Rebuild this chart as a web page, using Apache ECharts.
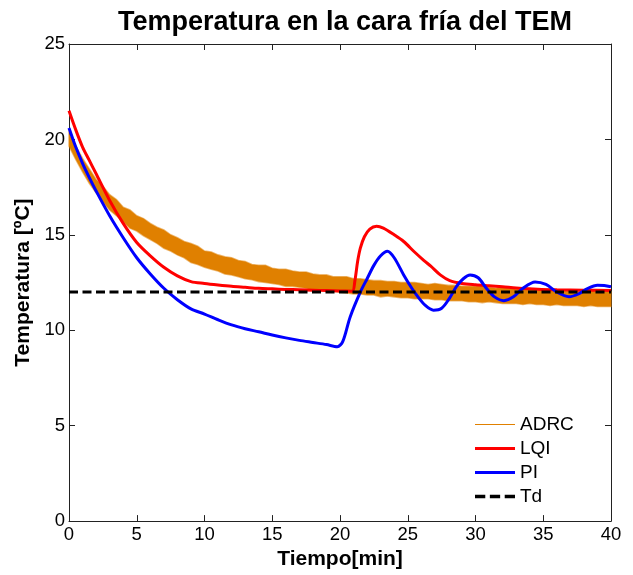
<!DOCTYPE html>
<html>
<head>
<meta charset="utf-8">
<script src="https://cdn.jsdelivr.net/npm/echarts@6/dist/echarts.min.js"></script>
<style>
    html, body { margin: 0; padding: 0; background: #fff; }
    #main { width: 633px; height: 575px; }
</style>
</head>
<body>
<div id="main"></div>
<script>
// tiempo [min] y temperatura [ºC]
var adrcTime = [0, 0.5, 1, 1.5, 2, 2.5, 3, 3.5, 4, 4.5, 5, 5.5, 6, 6.5, 7, 7.5, 8, 8.5, 9, 9.5,
    10, 10.5, 11, 11.5, 12, 12.5, 13, 13.5, 14, 14.5, 15, 15.5, 16, 16.5, 17, 17.5, 18, 18.5, 19, 19.5,
    20, 20.5, 21, 21.5, 22, 22.5, 23, 23.5, 24, 24.5, 25, 25.5, 26, 26.5, 27, 27.5, 28, 28.5, 29, 29.5,
    30, 30.5, 31, 31.5, 32, 32.5, 33, 33.5, 34, 34.5, 35, 35.5, 36, 36.5, 37, 37.5, 38, 38.5, 39, 39.5, 40];
// borde inferior y superior de la banda de ruido
var adrcLow = [19.65, 18.95, 18.3, 17.7, 17.2, 16.75, 16.3, 16.0, 15.7, 15.35,
    15.2, 14.95, 14.75, 14.55, 14.3, 14.15, 13.95, 13.8, 13.55, 13.45,
    13.3, 13.2, 13.1, 12.95, 12.9, 12.8, 12.7, 12.65, 12.55, 12.5,
    12.45, 12.4, 12.3, 12.3, 12.25, 12.2, 12.1, 12.1, 12.1, 12.05,
    12.0, 11.95, 11.9, 11.9, 11.85, 11.85, 11.75, 11.8, 11.75, 11.7,
    11.7, 11.65, 11.65, 11.65, 11.6, 11.6, 11.55, 11.55, 11.55, 11.5,
    11.5, 11.45, 11.5, 11.45, 11.4, 11.4, 11.4, 11.35, 11.4, 11.35,
    11.35, 11.3, 11.35, 11.3, 11.3, 11.3, 11.25, 11.3, 11.25, 11.25, 11.25];
var adrcHigh = [20.3, 19.65, 19.0, 18.45, 17.9, 17.55, 17.1, 16.85, 16.45, 16.3,
    16.0, 15.85, 15.6, 15.4, 15.25, 15.0, 14.85, 14.65, 14.55, 14.4,
    14.15, 14.1, 13.95, 13.85, 13.8, 13.65, 13.6, 13.45, 13.4, 13.4,
    13.25, 13.2, 13.2, 13.1, 13.05, 13.05, 12.95, 12.9, 12.9, 12.8,
    12.8, 12.8, 12.7, 12.7, 12.65, 12.6, 12.6, 12.55, 12.55, 12.5,
    12.5, 12.5, 12.45, 12.4, 12.45, 12.4, 12.35, 12.35, 12.3, 12.3,
    12.3, 12.3, 12.25, 12.2, 12.25, 12.2, 12.15, 12.15, 12.2, 12.1,
    12.1, 12.1, 12.05, 12.1, 12.05, 12.05, 12.0, 12.1, 12.0, 12.0, 12.0];

var lqiTime = [0, 0.5, 1, 1.5, 2, 3, 4, 5, 6, 7, 8, 9, 10, 11, 12, 13, 14, 15, 16, 17, 18, 19, 20, 20.9,
    21.1, 21.3, 21.5, 21.8, 22.2, 22.7, 23.2, 24, 24.7, 25.5, 26.2, 26.7, 27.4, 28.1, 29, 30, 31, 32, 33, 34.6, 36, 38, 40];
var lqiTemp = [21.5, 20.5, 19.6, 18.9, 18.2, 16.8, 15.6, 14.6, 13.9, 13.3, 12.85, 12.55, 12.45, 12.37, 12.3, 12.25, 12.2, 12.17, 12.14, 12.12, 12.1, 12.08, 12.06, 12.05,
    12.6, 13.6, 14.3, 14.9, 15.3, 15.45, 15.35, 15.0, 14.65, 14.1, 13.65, 13.36, 12.9, 12.6, 12.45, 12.38, 12.33, 12.28, 12.22, 12.15, 12.12, 12.1, 12.08];

var piTime = [0, 0.5, 1, 1.5, 2, 3, 4, 5, 6, 7, 8, 9, 10, 11, 12, 13, 14, 15, 16, 17, 18, 19, 19.8, 20.2,
    20.75, 21.5, 22, 22.5, 23, 23.5, 24, 24.7, 25.3, 25.7, 26.3, 26.9, 27.5, 28.1, 28.6, 29.1, 29.6, 30.2,
    30.8, 31.4, 32.1, 32.8, 33.5, 34.4, 35.2, 36, 36.9, 37.6, 38.3, 39, 39.5, 40];
var piTemp = [20.6, 19.6, 18.75, 18.0, 17.3, 16.0, 14.85, 13.8, 12.95, 12.2, 11.6, 11.12, 10.85, 10.55, 10.28, 10.08, 9.92, 9.75, 9.6, 9.47, 9.36, 9.25, 9.14, 9.4,
    10.7, 12.0, 12.7, 13.4, 13.9, 14.14, 13.8, 12.9, 12.2, 11.8, 11.3, 11.05, 11.15, 11.7, 12.3, 12.7, 12.9, 12.75,
    12.2, 11.75, 11.55, 11.75, 12.2, 12.53, 12.4, 12.0, 11.76, 11.9, 12.2, 12.36, 12.35, 12.28];

var tdTime = [0, 40];
var tdTemp = [12, 12];

var xTicks = [0, 5, 10, 15, 20, 25, 30, 35, 40];
var yTicks = [0, 5, 10, 15, 20, 25];

var naranja = '#E08000';
var fuente = "'Liberation Sans', Arial, sans-serif";

function pares(xs, ys) {
    return xs.map(function (x, i) { return [x, ys[i]]; });
}

// banda de ruido del ADRC: un solo poligono, borde superior de ida e inferior de vuelta
function bandaRender(params, api) {
    if (params.dataIndex !== 0) return;
    var pts = [];
    for (var i = 0; i < adrcTime.length; i++) {
        pts.push(api.coord([adrcTime[i], adrcHigh[i]]));
    }
    for (var j = adrcTime.length - 1; j >= 0; j--) {
        pts.push(api.coord([adrcTime[j], adrcLow[j]]));
    }
    return {
        type: 'polygon',
        shape: { points: pts },
        style: { fill: naranja, stroke: 'rgba(224,128,0,0.55)', lineWidth: 1.6 }
    };
}

var ejeX = {
    type: 'value',
    min: xTicks[0],
    max: xTicks[xTicks.length - 1],
    interval: 5,
    axisLine: { show: true, onZero: false, lineStyle: { color: '#222', width: 1 } },
    axisTick: { show: true, inside: true, length: 6, lineStyle: { color: '#222' } },
    splitLine: { show: false }
};
var ejeY = {
    type: 'value',
    min: yTicks[0],
    max: yTicks[yTicks.length - 1],
    interval: 5,
    axisLine: { show: true, onZero: false, lineStyle: { color: '#222', width: 1 } },
    axisTick: { show: true, inside: true, length: 6, lineStyle: { color: '#222' } },
    splitLine: { show: false }
};

var iconoLinea = 'path://M0,0H40V3H0Z';
var iconoFina = 'path://M0,0H40V1.2H0Z';
var iconoGuion = 'path://M0,0H9V3H0Z M13,0H22V3H13Z M26,0H35V3H26Z';

var option = {
    animation: false,
    backgroundColor: '#fff',
    title: {
        text: 'Temperatura en la cara fría del TEM',
        left: 340,
        textAlign: 'center',
        top: 4,
        textStyle: { fontFamily: fuente, fontWeight: 'bold', fontSize: 27, color: '#000' }
    },
    grid: { left: 69, right: 22, top: 44, bottom: 47.5 },
    legend: {
        orient: 'vertical',
        left: 475,
        top: 415,
        padding: 0,
        itemWidth: 40,
        itemHeight: 14,
        itemGap: 5,
        textStyle: { fontFamily: fuente, fontSize: 19, color: '#000' },
        data: [
            { name: 'ADRC', icon: iconoFina },
            { name: 'LQI', icon: iconoLinea },
            { name: 'PI', icon: iconoLinea },
            { name: 'Td', icon: iconoGuion }
        ]
    },
    xAxis: [
        Object.assign({}, ejeX, {
            position: 'bottom',
            axisLabel: { fontFamily: fuente, fontSize: 18.5, color: '#000', margin: 4 },
            name: 'Tiempo[min]',
            nameLocation: 'middle',
            nameGap: 24,
            nameTextStyle: { fontFamily: fuente, fontWeight: 'bold', fontSize: 21, color: '#000' }
        }),
        Object.assign({}, ejeX, { position: 'top', axisLabel: { show: false } })
    ],
    yAxis: [
        Object.assign({}, ejeY, {
            position: 'left',
            axisLabel: { fontFamily: fuente, fontSize: 18.5, color: '#000', margin: 4 },
            name: 'Temperatura [ºC]',
            nameLocation: 'middle',
            nameGap: 28,
            nameTextStyle: { fontFamily: fuente, fontWeight: 'bold', fontSize: 21, color: '#000' }
        }),
        Object.assign({}, ejeY, { position: 'right', axisLabel: { show: false } })
    ],
    series: [
        {
            name: 'adrcBanda',
            type: 'custom',
            silent: true,
            renderItem: bandaRender,
            encode: { x: 0, y: [1, 2] },
            data: adrcTime.map(function (t, i) { return [t, adrcLow[i], adrcHigh[i]]; })
        },
        {
            name: 'ADRC',
            type: 'line',
            symbol: 'none',
            itemStyle: { color: naranja },
            lineStyle: { color: naranja, width: 1.2 },
            data: []
        },
        {
            name: 'LQI',
            type: 'line',
            symbol: 'none',
            smooth: 0.3,
            itemStyle: { color: '#FF0000' },
            lineStyle: { color: '#FF0000', width: 3 },
            data: pares(lqiTime, lqiTemp)
        },
        {
            name: 'PI',
            type: 'line',
            symbol: 'none',
            smooth: 0.3,
            itemStyle: { color: '#0000FF' },
            lineStyle: { color: '#0000FF', width: 3 },
            data: pares(piTime, piTemp)
        },
        {
            name: 'Td',
            type: 'line',
            symbol: 'none',
            itemStyle: { color: '#000' },
            lineStyle: { color: '#000', width: 3, type: [9, 4.5] },
            data: pares(tdTime, tdTemp)
        }
    ]
};

var grafico = echarts.init(document.getElementById('main'));
grafico.setOption(option);
</script>
</body>
</html>
